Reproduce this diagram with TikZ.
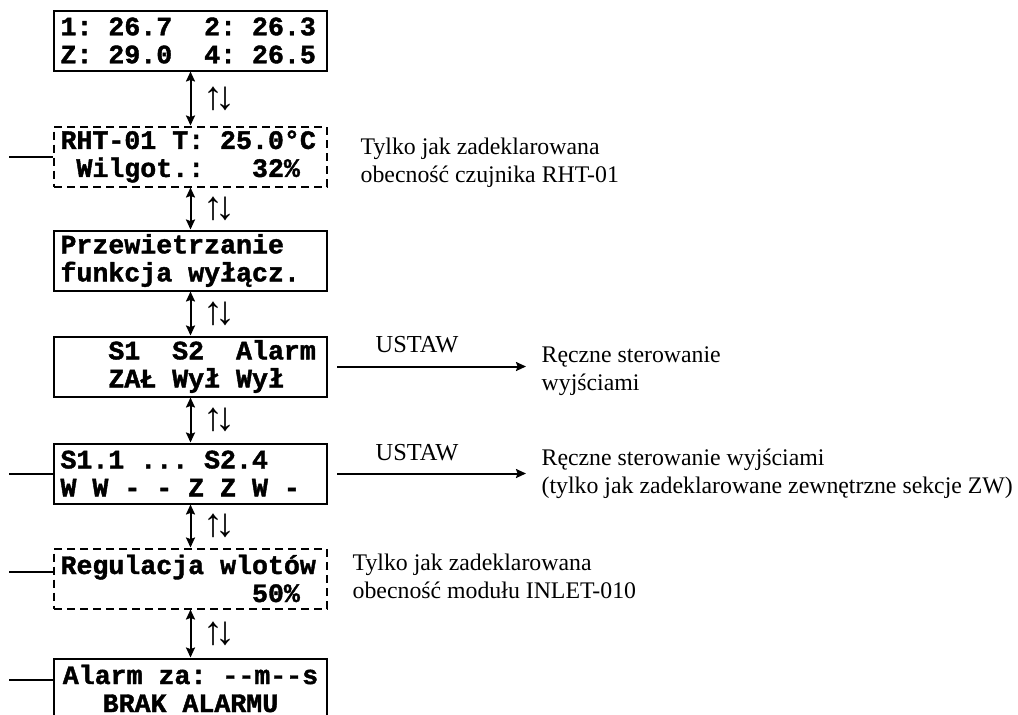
\documentclass[tikz,border=0pt]{standalone}
\usepackage{fontspec}
\setmainfont{Liberation Serif}
\setmonofont{Liberation Mono}[BoldFeatures={FakeBold=1.5}]
\usetikzlibrary{arrows.meta,positioning}

% one character cell of the display
\newcommand{\gap}[1][1]{\hspace*{#1\dimexpr0.6em\relax}}

\begin{document}
\begin{tikzpicture}[x=0.5pt,y=-0.5pt,>={Stealth[length=5pt,width=4.5pt,inset=0.8pt]},
                    line width=1pt,
                    lcd/.style={draw,minimum width=136.5pt,minimum height=30pt,
                                text width=130pt,inner xsep=3.25pt,inner ysep=0.5pt,align=left,
                                font=\ttfamily\bfseries\fontsize{13.3}{14}\selectfont},
                    opt/.style={lcd,dash pattern=on 4pt off 2.5pt},
                    nav/.style={<->},
                    note/.style={align=left,font=\fontsize{11.9}{14}\selectfont}]

  \useasboundingbox (0,0) rectangle (1018,714);

  % displays, top to bottom
  \node[lcd] (temp) at (190.5,40.5) {1:\gap 26.7\gap[2]2:\gap 26.3\\Z:\gap 29.0\gap[2]4:\gap 26.5};
  \node[opt] (rht)   [below=27pt of temp]   {RHT-01\gap T:\gap 25.0°C\\\gap Wilgot.:\gap[3]32\%};
  \node[lcd] (vent)  [below=21pt of rht]    {Przewietrzanie\\funkcja\gap wyłącz.};
  \node[lcd] (outs)  [below=22pt of vent]   {\gap[3]S1\gap[2]S2\gap[2]Alarm\\\gap[3]ZAŁ\gap Wył\gap Wył};
  \node[lcd] (sect)  [below=22.5pt of outs] {S1.1\gap ...\gap S2.4\\W\gap W\gap -\gap -\gap Z\gap Z\gap W\gap -};
  \node[opt] (inlet) [below=21.5pt of sect] {Regulacja\gap wlotów\\\gap[12]50\%};
  \node[lcd,align=center] (alarm) [below=24pt of inlet] {Alarm\gap za:\gap -{}-m-{}-s\\BRAK\gap ALARMU};

  % up / down navigation
  \foreach \a/\b in {temp/rht,rht/vent,vent/outs,outs/sect,sect/inlet,inlet/alarm}
    \draw[nav] (\a.south) -- node[right=6pt,inner sep=0pt,font=\fontsize{20}{20}\selectfont] {↑\kern-4pt↓} (\b.north);

  % notes
  \node[note,right=12.5pt of rht,yshift=-3pt]  (rhtnote)   {Tylko jak zadeklarowana\\obecność czujnika RHT-01};
  \node[note,right=8.5pt of inlet,yshift=1pt]  (inletnote) {Tylko jak zadeklarowana\\obecność modułu INLET-010};

  % manual control
  \coordinate[right=99pt of outs.east] (manA);
  \coordinate[right=99pt of sect.east] (manB);
  \node[note,right=4pt of manA,yshift=-2.5pt] (manAtext) {Ręczne sterowanie\\wyjściami};
  \node[note,right=4pt of manB] (manBtext) {Ręczne sterowanie wyjściami\\(tylko jak zadeklarowane zewnętrzne sekcje ZW)};
  \draw[->,shorten <=4.5pt] (outs.east) -- node[pos=0.45,above=6.5pt,inner sep=0pt,note,font=\fontsize{12.2}{14}\selectfont] {USTAW} (manA);
  \draw[->,shorten <=4.5pt] (sect.east) -- node[pos=0.45,above=6pt,inner sep=0pt,note,font=\fontsize{12.2}{14}\selectfont] {USTAW} (manB);

  % entries from the left
  \coordinate[left=22pt of rht.west] (rhtIn);
  \coordinate[left=22pt of sect.west] (sectIn);
  \coordinate[left=22pt of inlet.west,yshift=3.5pt] (inletIn);
  \coordinate[left=22pt of alarm.west,yshift=4.5pt] (alarmIn);
  \draw (rht.west) -- (rhtIn);
  \draw (sect.west) -- (sectIn);
  \draw ([yshift=3.5pt]inlet.west) -- (inletIn);
  \draw ([yshift=4.5pt]alarm.west) -- (alarmIn);
\end{tikzpicture}
\end{document}
